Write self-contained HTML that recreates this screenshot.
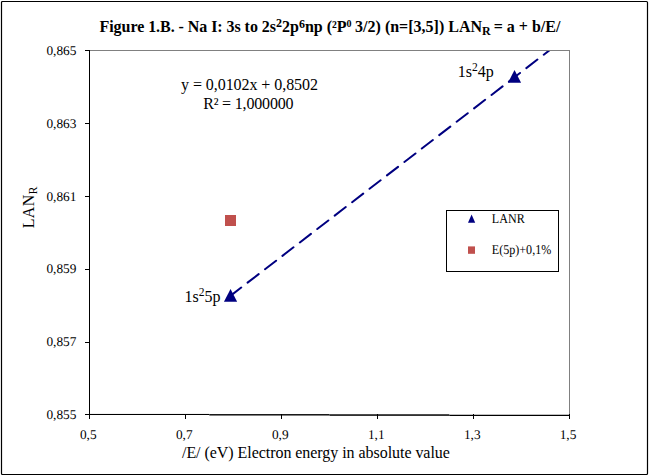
<!DOCTYPE html>
<html>
<head>
<meta charset="utf-8">
<title>Figure 1.B</title>
<style>
html,body{margin:0;padding:0;background:#fff;}
body{width:649px;height:476px;overflow:hidden;font-family:"Liberation Serif",serif;}
svg{display:block;}
text{font-family:"Liberation Serif",serif;fill:#000;}
</style>
</head>
<body>
<svg width="649" height="476" viewBox="0 0 649 476">
  <rect x="0" y="0" width="649" height="476" fill="#ffffff"/>
  <!-- outer border -->
  <rect x="1.5" y="1.5" width="646" height="473" rx="1" ry="1" fill="none" stroke="#000" stroke-width="1.2"/>

  <!-- plot area grey border (top + right) -->
  <g shape-rendering="crispEdges" stroke="#808080" stroke-width="1" fill="none">
    <line x1="90" y1="50.5" x2="569.5" y2="50.5"/>
    <line x1="569.5" y1="50" x2="569.5" y2="415"/>
  </g>

  <!-- axes -->
  <g shape-rendering="crispEdges" stroke="#000" stroke-width="1" fill="none">
    <line x1="89.5" y1="50" x2="89.5" y2="419"/>
    <line x1="85" y1="414.5" x2="90" y2="414.5"/>
    <!-- y ticks -->
    <line x1="85" y1="50.5" x2="90" y2="50.5"/>
    <line x1="85" y1="123.5" x2="90" y2="123.5"/>
    <line x1="85" y1="196.5" x2="90" y2="196.5"/>
    <line x1="85" y1="269.5" x2="90" y2="269.5"/>
    <line x1="85" y1="342.5" x2="90" y2="342.5"/>
    <!-- x ticks -->
    <line x1="185.5" y1="414" x2="185.5" y2="419"/>
    <line x1="281.5" y1="414" x2="281.5" y2="419"/>
    <line x1="377.5" y1="414" x2="377.5" y2="419"/>
    <line x1="473.5" y1="414" x2="473.5" y2="419"/>
    <line x1="569.5" y1="414" x2="569.5" y2="419"/>
  </g>

  <g fill="#000" stroke="none">
    <rect x="89" y="413.95" width="120.3" height="1.05"/>
    <rect x="209.3" y="414.1" width="120.2" height="1.4"/>
    <rect x="329.5" y="414.3" width="119.8" height="1.5"/>
    <rect x="449.3" y="414.75" width="120.7" height="1.25"/>
  </g>
  <!-- trendline -->
  <clipPath id="plotclip"><rect x="90" y="51" width="479" height="363.5"/></clipPath>
  <line x1="230.75" y1="295.6" x2="566.5" y2="37.2" stroke="#000080" stroke-width="2" stroke-linecap="round" stroke-dasharray="14 7.985" stroke-dashoffset="0.76" fill="none" clip-path="url(#plotclip)"/>

  <!-- markers -->
  <polygon points="230.55,288.9 237.15,301.85 223.95,301.85" fill="#000080"/>
  <polygon points="514.5,70 521.1,82.85 507.9,82.85" fill="#000080"/>
  <rect x="225" y="215" width="11" height="11" fill="#C0504D"/>

  <!-- title -->
  <text x="99.5" y="32.3" font-size="16" font-weight="bold"><tspan letter-spacing="-0.055">Figure 1.B. - Na I: 3s to </tspan>2s<tspan font-size="12" dy="-5.6">2</tspan><tspan dy="5.6">2p</tspan><tspan font-size="12" dy="-4.6">6</tspan><tspan dy="4.6">np (²P</tspan><tspan font-size="10" dy="-4.9" letter-spacing="-0.5">0</tspan><tspan dy="4.9"> 3/2) (n=[3,5]) LAN</tspan><tspan font-size="12" dy="3">R </tspan><tspan dy="-3">= a + b/E/</tspan></text>

  <!-- y labels -->
  <g font-size="13.33" text-anchor="end" text-rendering="geometricPrecision">
    <text x="76.4" y="55">0,865</text>
    <text x="76.4" y="128">0,863</text>
    <text x="76.4" y="201">0,861</text>
    <text x="76.4" y="272.9">0,859</text>
    <text x="76.4" y="345.9">0,857</text>
    <text x="76.4" y="419">0,855</text>
  </g>
  <!-- x labels -->
  <g font-size="13.33" text-anchor="middle" text-rendering="geometricPrecision">
    <text x="88.3" y="438.7">0,5</text>
    <text x="184.3" y="438.7">0,7</text>
    <text x="280.3" y="438.7">0,9</text>
    <text x="376.3" y="438.7">1,1</text>
    <text x="472.3" y="438.7">1,3</text>
    <text x="568" y="438.7">1,5</text>
  </g>

  <!-- axis titles -->
  <text x="182" y="458" font-size="16" letter-spacing="-0.048">/E/ (eV) Electron energy in absolute value</text>
  <text transform="translate(34.1,228.3) rotate(-90)" font-size="16" letter-spacing="0.35">LAN<tspan font-size="11.5" dy="3.1" letter-spacing="0">R</tspan></text>

  <!-- equation -->
  <g font-size="16" text-anchor="middle">
    <text x="249.5" y="90.4" letter-spacing="-0.06">y = 0,0102x + 0,8502</text>
    <text x="248.3" y="108.7" letter-spacing="-0.17">R² = 1,000000</text>
  </g>

  <!-- data labels -->
  <text x="184.5" y="301.6" font-size="16">1s<tspan font-size="11.5" dy="-5.6">2</tspan><tspan dy="5.6">5p</tspan></text>
  <text x="457.8" y="76.6" font-size="16">1s<tspan font-size="11.5" dy="-5.6">2</tspan><tspan dy="5.6">4p</tspan></text>

  <!-- legend -->
  <rect x="446.5" y="210.5" width="112" height="61" fill="#fff" stroke="#000" stroke-width="1" shape-rendering="crispEdges"/>
  <polygon points="471.6,214.6 475.2,222.8 468,222.8" fill="#000080"/>
  <rect x="468" y="246.4" width="7" height="7.4" fill="#C0504D"/>
  <g font-size="13.5" text-rendering="geometricPrecision">
    <text transform="translate(491.8,223) scale(0.895,1)">LANR</text>
    <text transform="translate(491.8,254) scale(0.895,1)">E(5p)+0,1%</text>
  </g>
</svg>
</body>
</html>
